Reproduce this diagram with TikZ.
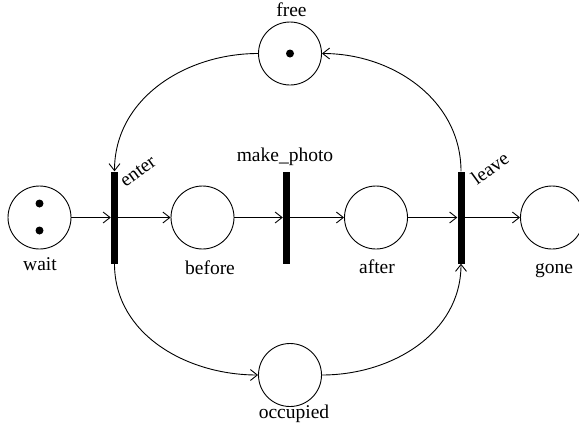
\documentclass[tikz,border=0pt]{standalone}
\usepackage{fontspec}
\setmainfont{Liberation Serif}
\usetikzlibrary{arrows.meta}
\begin{document}
\begin{tikzpicture}[x=1pt,y=-1pt,
  place/.style={circle,draw,line width=0.9pt,minimum size=63pt,inner sep=0pt},
  trans/.style={rectangle,fill=black,minimum width=7pt,minimum height=92pt,inner sep=0pt},
  token/.style={circle,fill=black,minimum size=8pt,inner sep=0pt},
  lbl/.style={inner sep=0pt,font=\fontsize{19.5}{23}\selectfont},
  arc/.style={line width=0.9pt,-{Straight Barb[length=7pt,width=11pt,line width=0.9pt]}},
  plain/.style={line width=0.9pt}]
\useasboundingbox (0,0) rectangle (579,429);
% places
\node[place] (wait) at (39.5,217.5) {};
\node[place] (before) at (202.5,217.5) {};
\node[place] (after) at (376,217.5) {};
\node[place] (gone) at (552,217.5) {};
\node[place] (free) at (290,53.5) {};
\node[place] (occupied) at (290,375) {};
% tokens
\node[token] (w1) at (39.5,203.5) {};
\node[token] (w2) at (39.5,230.5) {};
\node[token] (f1) at (290,53.5) {};
% transitions
\node[trans] (enter) at (114.5,217.5) {};
\node[trans] (make) at (286.5,217.5) {};
\node[trans] (leave) at (461,217.5) {};
% labels
\node[lbl,anchor=base] (lwait) at (40,270) {wait};
\node[lbl,anchor=base] (lbefore) at (210,274) {before};
\node[lbl,anchor=base] (lafter) at (377,273.5) {after};
\node[lbl,anchor=base] (lgone) at (554,273.5) {gone};
\node[lbl,anchor=base] (lfree) at (291.5,16.5) {free};
\node[lbl,anchor=base] (locc) at (294,418.5) {occupied};
\node[lbl,anchor=base] (lmake) at (285,161.5) {make\_photo};
\node[lbl,anchor=base west,rotate=36] (lenter) at (125.5,187.5) {enter};
\node[lbl,anchor=base west,rotate=36] (lleave) at (477,186) {leave};
% arcs
\draw[arc] (wait) -- (enter);
\draw[arc] (enter) -- (before);
\draw[arc] (before) -- (make);
\draw[arc] (make) -- (after);
\draw[arc] (after) -- (leave);
\draw[arc] (leave) -- (gone);
\draw[arc] (free.west) to[out=180,in=90] (enter.north);
\draw[arc] (enter.south) to[out=-90,in=180] (occupied.west);
\draw[arc] (occupied.east) to[out=0,in=-90] (leave.south);
\draw[arc] (leave.north) to[out=90,in=0] (free.east);
\end{tikzpicture}
\end{document}
